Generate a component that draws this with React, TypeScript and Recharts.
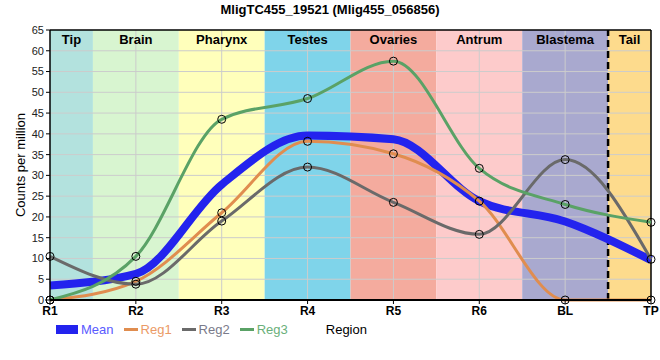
import React from "react";
import {
  LineChart,
  Line,
  XAxis,
  YAxis,
  ReferenceArea,
  ReferenceLine,
} from "recharts";

const regions = ["R1", "R2", "R3", "R4", "R5", "R6", "BL", "TP"];
const mean = [3.5, 6.3, 27.8, 39.6, 38.7, 23.8, 18.9, 9.6];
const reg1 = [0, 4.5, 21, 38.2, 35.2, 23.8, 0, 0];
const reg2 = [10.5, 3.8, 19, 32, 23.5, 15.8, 33.8, 9.8];
const reg3 = [0, 10.5, 43.5, 48.5, 57.5, 31.7, 23, 18.7];

const tissues = ["Tip", "Brain", "Pharynx", "Testes", "Ovaries", "Antrum", "Blastema", "Tail"];
const tissueColors = ["#b3e2de", "#d8f5d0", "#ffffbb", "#7fd4ea", "#f4ab9e", "#fdcbcb", "#a9a9cf", "#fddb8d"];
const yTicks = [0, 5, 10, 15, 20, 25, 30, 35, 40, 45, 50, 55, 60, 65];
const xTicks = [0, 1, 2, 3, 4, 5, 6, 7];

const series = [
  { key: "mean", name: "Mean", color: "#2323ee", text: "#5a5aff", width: 8 },
  { key: "reg1", name: "Reg1", color: "#e08d4f", text: "#eb9a66", width: 3 },
  { key: "reg2", name: "Reg2", color: "#6a6a6a", text: "#7a7a8a", width: 3 },
  { key: "reg3", name: "Reg3", color: "#5aa266", text: "#6ab07a", width: 3 },
];

const data = regions.map((r, i) => ({
  x: i,
  region: r,
  mean: mean[i],
  reg1: reg1[i],
  reg2: reg2[i],
  reg3: reg3[i],
}));

const font = "Arial, 'Liberation Sans', sans-serif";

const LegendBox = () => (
  <div style={{ display: "flex", alignItems: "center", fontFamily: font, fontSize: 13 }}>
    {series.map((s) => (
      <div key={s.key} style={{ display: "flex", alignItems: "center", marginRight: 10 }}>
        <span
          style={{
            display: "inline-block",
            width: s.key === "mean" ? 22 : 14,
            height: s.key === "mean" ? 9 : 3,
            background: s.color,
            marginRight: 3,
          }}
        />
        <span style={{ color: s.text }}>{s.name}</span>
      </div>
    ))}
    <span style={{ marginLeft: 28, color: "#000" }}>Region</span>
  </div>
);

export default function App() {
  return (
    <div style={{ position: "fixed", left: 0, top: 0, width: 660, height: 360, background: "#fff", fontFamily: font }}>
      <div
        style={{
          position: "absolute",
          top: 2,
          width: 660,
          textAlign: "center",
          fontWeight: "bold",
          fontSize: 13,
        }}
      >
        MligTC455_19521 (Mlig455_056856)
      </div>
      <div
        style={{
          position: "absolute",
          left: 20,
          top: 165,
          transform: "translate(-50%, -50%) rotate(-90deg)",
          fontSize: 13,
          whiteSpace: "nowrap",
        }}
      >
        Counts per million
      </div>
      <div style={{ position: "absolute", left: 56, top: 322 }}>
        <LegendBox />
      </div>
      <LineChart width={660} height={360} data={data} margin={{ top: 30, right: 9, left: 20, bottom: 40 }}>
        {tissues.map((t, i) => (
          <ReferenceArea
            key={t}
            x1={Math.max(0, i - 0.5)}
            x2={Math.min(7, i + 0.5)}
            y1={0}
            y2={65}
            fill={tissueColors[i]}
            fillOpacity={1}
            stroke="none"
            label={{ value: t, position: "insideTop", fontWeight: "bold", fontSize: 13, fill: "#000", fontFamily: font }}
          />
        ))}
        {yTicks.slice(1, -1).map((v) => (
          <ReferenceLine key={`gy${v}`} y={v} stroke="#cccccc" strokeWidth={1} />
        ))}
        {xTicks.slice(1, -1).map((v) => (
          <ReferenceLine key={`gx${v}`} x={v} stroke="#cccccc" strokeWidth={1} />
        ))}
        <ReferenceLine x={6.5} stroke="#000" strokeWidth={2.5} strokeDasharray="7 4" />
        <ReferenceLine y={65} stroke="#000" strokeWidth={1.5} />
        <ReferenceLine x={7} stroke="#000" strokeWidth={1.5} />
        <XAxis
          type="number"
          dataKey="x"
          domain={[0, 7]}
          ticks={xTicks}
          tickFormatter={(v: number) => regions[v]}
          axisLine={{ stroke: "#000", strokeWidth: 2 }}
          tickLine={{ stroke: "#000" }}
          tickSize={4}
          height={20}
          tick={{ fill: "#000", fontSize: 12, fontWeight: "bold", fontFamily: font }}
        />
        <YAxis
          domain={[0, 65]}
          ticks={yTicks}
          width={30}
          axisLine={{ stroke: "#000", strokeWidth: 1.5 }}
          tickLine={{ stroke: "#000" }}
          tickSize={4}
          interval={0}
          tick={{ fill: "#222", fontSize: 11, fontFamily: font }}
        />
        {series.map((s) => (
          <Line
            key={s.key}
            type="monotone"
            dataKey={s.key}
            name={s.name}
            stroke={s.color}
            strokeWidth={s.width}
            dot={s.key === "mean" ? false : { r: 4, fill: "none", stroke: "#000", strokeWidth: 1 }}
            activeDot={false}
            isAnimationActive={false}
          />
        ))}
      </LineChart>
    </div>
  );
}
